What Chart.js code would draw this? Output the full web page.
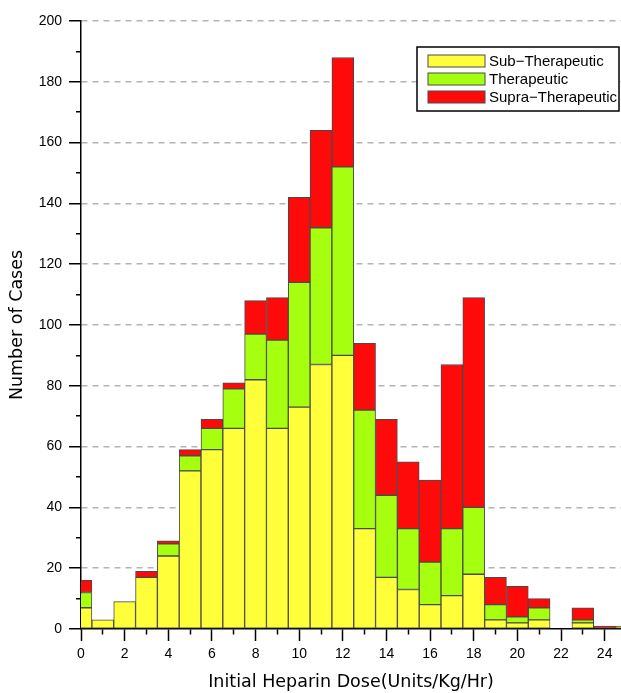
<!DOCTYPE html>
<html>
<head>
<meta charset="utf-8">
<script src="https://cdn.jsdelivr.net/npm/chart.js@4/dist/chart.umd.min.js"></script>
<style>
  html, body { margin: 0; padding: 0; background: #fff; }
  canvas { display: block; }
</style>
</head>
<body>
<canvas id="chart" width="621" height="693"></canvas>
<script>
{
    const doses = [0, 1, 2, 3, 4, 5, 6, 7, 8, 9, 10, 11, 12, 13, 14, 15, 16, 17, 18, 19, 20, 21, 22, 23, 24, 25];
    const subTher = [7, 3, 9, 17, 24, 52, 59, 66, 82, 66, 73, 87, 90, 33, 17, 13, 8, 11, 18, 3, 2, 3, 0, 2, 0, 1];
    const ther = [5, 0, 0, 0, 4, 5, 7, 13, 15, 29, 41, 45, 62, 39, 27, 20, 14, 22, 22, 5, 2, 4, 0, 1, 0, 0];
    const supra = [4, 0, 0, 2, 1, 2, 3, 2, 11, 14, 28, 32, 36, 22, 25, 22, 27, 54, 69, 9, 10, 3, 0, 4, 1, 0];
    const seriesNames = ['Sub\u2212Therapeutic', 'Therapeutic', 'Supra\u2212Therapeutic'];

    const yellow = '#ffff3a';
    const green = '#a6ff0e';
    const red = '#ff0a0a';
    const edge = '#4a4a4a';
    const fontFam = "'Liberation Sans', Arial, sans-serif";
    const titleFam = "'DejaVu Sans', sans-serif";

    var toPoints = function(vals) {
        return vals.map(function(v, i) { return {x: doses[i], y: v}; });
    };

    var makeSet = function(label, vals, col) {
        return {
            label: label,
            data: toPoints(vals),
            backgroundColor: col,
            borderColor: edge,
            borderWidth: 1,
            borderSkipped: false,
            barPercentage: 1,
            categoryPercentage: 1
        };
    };

    // legend box inside the plot, top right
    const boxLegend = {
        id: 'boxLegend',
        afterDraw: function(chart) {
            const ctx = chart.ctx;
            const sets = chart.data.datasets;
            const left = 417, top = 47, w = 202, h = 64;
            ctx.save();
            ctx.fillStyle = '#fff';
            ctx.fillRect(left, top, w, h);
            ctx.lineWidth = 1.5;
            ctx.strokeStyle = '#000';
            ctx.strokeRect(left, top, w, h);
            ctx.font = '15px ' + fontFam;
            ctx.textBaseline = 'middle';
            ctx.textAlign = 'left';
            for (let i = 0; i < sets.length; i++) {
                const cy = top + 14 + i * 18;
                ctx.fillStyle = sets[i].backgroundColor;
                ctx.fillRect(left + 11, cy - 6, 57, 12);
                ctx.lineWidth = 1;
                ctx.strokeStyle = edge;
                ctx.strokeRect(left + 11, cy - 6, 57, 12);
                ctx.fillStyle = '#000';
                ctx.fillText(sets[i].label, left + 72, cy + 1);
            }
            ctx.restore();
        }
    };

    var myChart = new Chart(document.getElementById('chart'), {
        type: 'bar',
        data: {
            datasets: [
                makeSet(seriesNames[0], subTher, yellow),
                makeSet(seriesNames[1], ther, green),
                makeSet(seriesNames[2], supra, red)
            ]
        },
        options: {
            responsive: false,
            animation: false,
            layout: { padding: { top: 21, right: 0, left: 0, bottom: 0 } },
            plugins: {
                legend: { display: false },
                tooltip: { enabled: false }
            },
            scales: {
                x: {
                    type: 'linear',
                    stacked: true,
                    offset: false,
                    min: 0,
                    max: 24.75,
                    afterFit: function(s) { s.height = 64; },
                    ticks: {
                        stepSize: 1,
                        includeBounds: false,
                        autoSkip: false,
                        maxRotation: 0,
                        padding: 5,
                        color: '#000',
                        font: { family: fontFam, size: 14 },
                        callback: function(v) { return v % 2 === 0 ? String(v) : ''; }
                    },
                    grid: {
                        offset: false,
                        drawOnChartArea: false,
                        tickLength: 12,
                        tickWidth: 1.5,
                        tickColor: '#000',
                        tickBorderDash: function(c) { return c.tick && c.tick.value % 2 === 0 ? [] : [5, 20]; }
                    },
                    border: { color: '#000', width: 1.5 },
                    title: {
                        display: true,
                        text: 'Initial Heparin Dose(Units/Kg/Hr)',
                        color: '#000',
                        font: { family: titleFam, size: 17.5 },
                        padding: { top: 0, bottom: 0 }
                    }
                },
                y: {
                    stacked: true,
                    min: 0,
                    max: 200,
                    afterFit: function(s) { s.width = 81; },
                    ticks: {
                        stepSize: 10,
                        padding: 7,
                        color: '#000',
                        font: { family: fontFam, size: 14 },
                        callback: function(v) { return v % 20 === 0 ? String(v) : ''; }
                    },
                    grid: {
                        color: function(c) {
                            if (!c.tick || c.tick.value === 0) return 'rgba(0,0,0,0)';
                            return c.tick.value % 20 === 0 ? '#b4b4b4' : 'rgba(0,0,0,0)';
                        },
                        lineWidth: 1.5,
                        tickLength: 12,
                        tickWidth: 1.5,
                        tickColor: '#000',
                        tickBorderDash: function(c) { return c.tick && c.tick.value % 20 === 0 ? [] : [0, 7, 20]; }
                    },
                    border: { color: '#000', width: 1.5, dash: [6, 5] },
                    title: {
                        display: true,
                        text: 'Number of Cases',
                        color: '#000',
                        font: { family: titleFam, size: 17.5 },
                        padding: { top: 7, bottom: 0 }
                    }
                }
            }
        },
        plugins: [boxLegend]
    });
}
</script>
</body>
</html>
